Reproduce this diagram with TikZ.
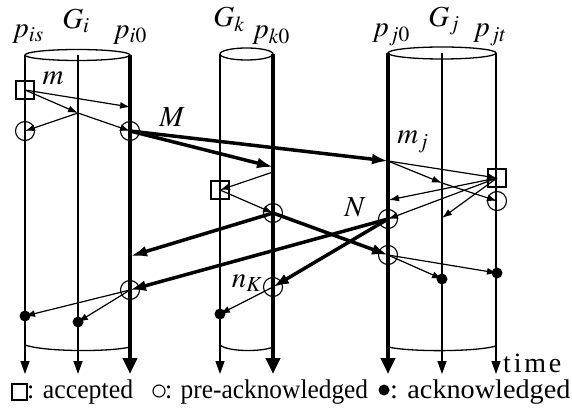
\documentclass[tikz,border=0pt]{standalone}
\usepackage{mathptmx}
\usepackage[no-math]{fontspec}
\setmainfont{Liberation Serif}
\usetikzlibrary{arrows.meta}
\begin{document}
\begin{tikzpicture}[x=1pt,y=-1pt,
  proc/.style={line width=1.3pt,-{Triangle[length=13pt,width=9pt]}},
  thickproc/.style={line width=4pt,-{Triangle[length=16pt,width=14pt]}},
  msg/.style={line width=1.2pt,-{Latex[length=10pt,width=7pt]}},
  bigmsg/.style={line width=3.5pt,-{Latex[length=16pt,width=11pt]}},
  acc/.style={draw,line width=1.1pt,rectangle,minimum size=18pt,inner sep=0pt},
  pre/.style={draw,line width=1.1pt,circle,minimum size=19pt,inner sep=0pt},
  ack/.style={fill,circle,minimum size=11pt,inner sep=0pt},
  lbl/.style={font=\fontsize{29}{32}\selectfont,inner sep=0pt},
  leg/.style={font=\fontsize{27}{30}\selectfont,inner sep=0pt,anchor=base west},
  rim/.style={line width=1.3pt},
]
\useasboundingbox (0,0) rectangle (572,411);

% ---------- group G_i ----------
\draw[rim] (77.5,55) ellipse [x radius=52.5pt, y radius=5.5pt];
\coordinate (is-top) at (25,55);  \coordinate (is-bot) at (25,374);
\coordinate (im-top) at (78,55);  \coordinate (im-bot) at (78,374);
\coordinate (i0-top) at (130,55); \coordinate (i0-bot) at (130,374);
\draw[proc] (is-top) -- (is-bot);
\draw[proc] (im-top) -- (im-bot);
\draw[thickproc] (i0-top) -- (i0-bot);
\draw[rim] (25,345) .. controls (45,352) and (110,352) .. (130,347);

% ---------- group G_k ----------
\draw[rim] (246.5,54) ellipse [x radius=26.5pt, y radius=6pt];
\coordinate (kl-top) at (220,54); \coordinate (kl-bot) at (220,374);
\coordinate (k0-top) at (273,54); \coordinate (k0-bot) at (273,374);
\draw[proc] (kl-top) -- (kl-bot);
\draw[thickproc] (k0-top) -- (k0-bot);
\draw[rim] (220,345) .. controls (228,352) and (262,352) .. (273,347);

% ---------- group G_j ----------
\draw[rim] (442,53) ellipse [x radius=54pt, y radius=6pt];
\coordinate (j0-top) at (388,53); \coordinate (j0-bot) at (388,374);
\coordinate (jm-top) at (442,53); \coordinate (jm-bot) at (442,374);
\coordinate (jt-top) at (496,53); \coordinate (jt-bot) at (496,374);
\draw[thickproc] (j0-top) -- (j0-bot);
\draw[proc] (jm-top) -- (jm-bot);
\draw[proc] (jt-top) -- (jt-bot);
\draw[rim] (388,347) .. controls (410,352) and (475,352) .. (496,346);

% ---------- labels ----------
\node[lbl] (Lis) at (28,34) {$p_{is}$};
\node[lbl] (LGi) at (76,21) {$G_i$};
\node[lbl] (Li0) at (130,35) {$p_{i0}$};
\node[lbl] (LGk) at (229,19) {$G_k$};
\node[lbl] (Lk0) at (271,35) {$p_{k0}$};
\node[lbl] (LGj) at (444,21) {$G_j$};
\node[lbl] (Lj0) at (391,35) {$p_{j0}$};
\node[lbl] (Ljt) at (490,35) {$p_{jt}$};

% ---------- events ----------
\node[acc] (m) at (25,90) {};
\coordinate (a1) at (130,107);
\coordinate (b1) at (78,113);
\node[pre] (cis) at (25,131) {};
\node[pre] (M0) at (130,131) {};
\coordinate (k1) at (273,167);
\coordinate (k1b) at (273,172);
\node[acc] (sk) at (220,190) {};
\node[pre] (ck) at (273,213) {};
\coordinate (i2) at (131,256);
\coordinate (j1) at (388,161);
\coordinate (jm1) at (442,183);
\node[acc] (sj) at (497,178) {};
\node[pre] (cjt) at (497,201) {};
\coordinate (j2) at (389,200);
\node[pre] (N) at (388,219) {};
\coordinate (jm2) at (442,218);
\node[pre] (cj2) at (388,255) {};
\node[ack] (dj1) at (442,279) {};
\node[ack] (dj2) at (497,273) {};
\node[pre] (ci2) at (130,290) {};
\node[pre] (nk) at (273,287) {};
\node[ack] (di1) at (25,316) {};
\node[ack] (di2) at (78,322) {};
\node[ack] (dk) at (220,314) {};

\node[lbl] (Lm) at (53,78) {$m$};
\node[lbl] (LM) at (172,117) {$M$};
\node[lbl] (Lmj) at (413,142) {$m_j$};
\node[lbl] (LN) at (355,207) {$N$};
\node[lbl] (LnK) at (247,283) {$n_K$};

% ---------- thin messages ----------
\draw[msg] (m.center) -- (a1);
\draw[msg] (m.center) -- (b1);
\draw[msg] (b1) -- (cis.center);
\draw[msg] (b1) -- (M0.center);
\draw[msg] (k1b) -- (sk.center);
\draw[msg] (sk.center) -- (ck.center);
\draw[msg] (j1) -- (jm1);
\draw[msg] (j1) -- (sj.center);
\draw[msg] (jm1) -- (cjt.center);
\draw[msg] (sj.center) -- (j2);
\draw[msg] (sj.center) -- (N.center);
\draw[msg] (sj.center) -- (jm2);
\draw[msg] (cj2.center) -- (dj1.center);
\draw[msg] (cj2.center) -- (dj2.center);
\draw[msg] (ci2.center) -- (di1.center);
\draw[msg] (ci2.center) -- (di2.center);
\draw[msg] (nk.center) -- (dk.center);

% ---------- thick messages ----------
\draw[bigmsg] (M0.center) -- (k1);
\draw[bigmsg] (M0.center) -- (j1);
\draw[bigmsg] (ck.center) -- (i2);
\draw[bigmsg] (ck.center) -- (cj2.center);
\draw[bigmsg] (N.center) -- (ci2.center);
\draw[bigmsg] (N.center) -- (nk.center);

% ---------- time & legend ----------
\node[leg,font=\fontsize{28}{30}\selectfont\addfontfeature{LetterSpace=10}] (time) at (503,372) {time};
\node[draw,line width=1.1pt,rectangle,minimum width=15pt,minimum height=16pt,inner sep=0pt] (lsq) at (19.5,392) {};
\node[leg] (lt1) at (27,398) {\scalebox{0.955}[1]{: accepted}};
\node[draw,line width=1.1pt,circle,minimum size=12pt,inner sep=0pt] (lci) at (159,391) {};
\node[leg] (lt2) at (165,398) {\scalebox{0.94}[1]{: pre-acknowledged}};
\node[ack] (ldot) at (384,390) {};
\node[leg] (lt3) at (390,398) {\scalebox{1.045}[1]{: acknowledged}};
\end{tikzpicture}
\end{document}
